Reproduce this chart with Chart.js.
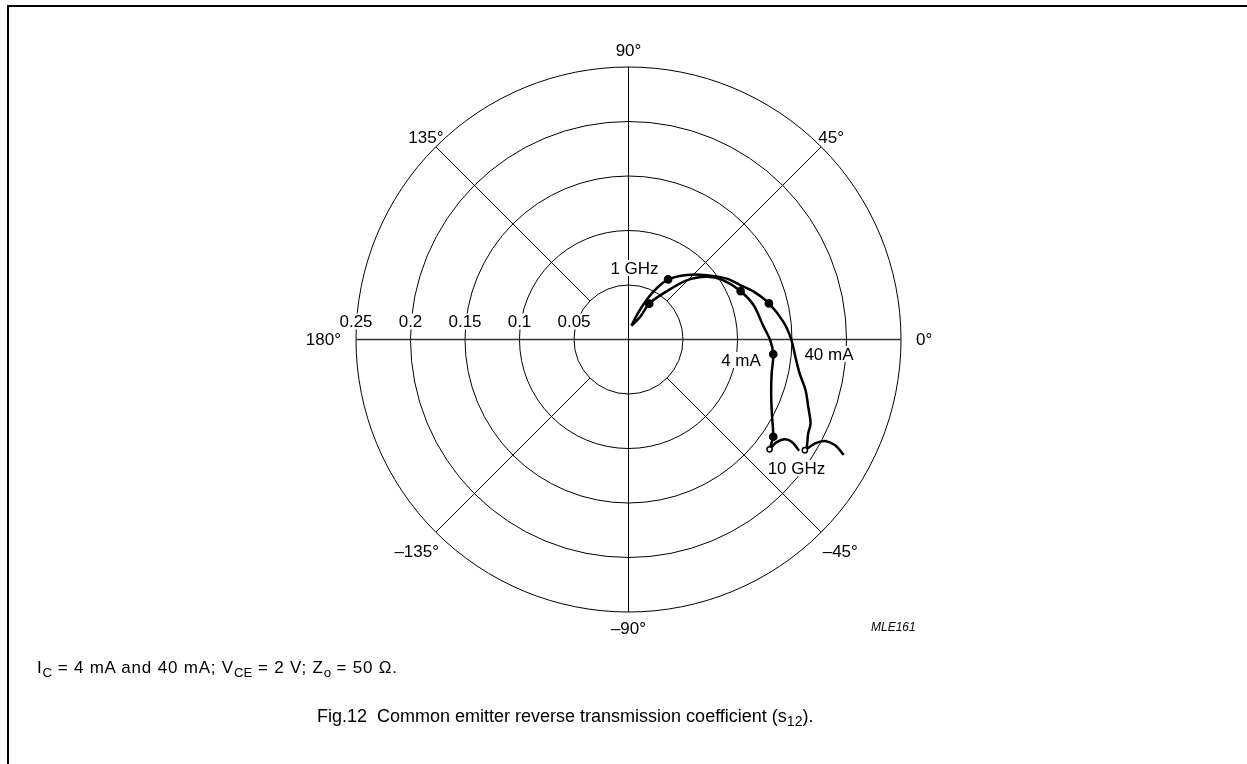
<!DOCTYPE html>
<html>
<head>
<meta charset="utf-8">
<script src="https://cdn.jsdelivr.net/npm/chart.js@4/dist/chart.umd.min.js"></script>
<style>
html, body { margin: 0; padding: 0; background: #fff; }
#wrap { position: relative; width: 1247px; height: 764px; overflow: hidden;
        font-family: "Liberation Sans", Arial, sans-serif; color: #000; }
#frame { position: absolute; left: 7px; top: 5px; width: 1400px; height: 900px;
         border-left: 2px solid #000; border-top: 2px solid #000; }
canvas { position: absolute; left: 0; top: 0; }
.note { position: absolute; left: 37px; top: 659px; font-size: 17px; line-height: 17px;
        letter-spacing: 0.8px; white-space: nowrap; }
.cap { position: absolute; left: 317px; top: 707px; font-size: 18px; line-height: 18px; white-space: nowrap; }
sub { font-size: 0.78em; vertical-align: -0.3em; line-height: 0; letter-spacing: 0; }
</style>
</head>
<body>
<div id="wrap">
  <div id="frame"></div>
  <canvas id="myChart" width="1247" height="764"></canvas>
  <div class="note">I<sub>C</sub> = 4 mA and 40 mA; V<sub>CE</sub> = 2 V; Z<sub>o</sub> = 50 &Omega;.</div>
  <div class="cap">Fig.12&nbsp; Common emitter reverse transmission coefficient (s<sub>12</sub>).</div>
</div>
<script>
// polar grid: magnitude rings and angle spokes
var ringValues = [0.05, 0.1, 0.15, 0.2, 0.25];
var ringLabels = ['0.05', '0.1', '0.15', '0.2', '0.25'];
var angleTicks = [0, 45, 90, 135, 180, -135, -90, -45];
var angleLabels = ['0°', '45°', '90°', '135°', '180°', '–135°', '–90°', '–45°'];

// s12 at Ic = 40 mA (magnitude, angle in degrees), 1 GHz .. 10 GHz
var mag40 = [0.013, 0.029, 0.048, 0.066, 0.080, 0.093, 0.106, 0.114, 0.123, 0.133, 0.143, 0.149,
             0.154, 0.160, 0.169, 0.176, 0.184, 0.186, 0.191, 0.191, 0.196, 0.203, 0.213, 0.224];
var ang40 = [78, 69, 63, 56.6, 47.8, 39.4, 31.8, 26, 20.9, 14.4, 6.5, 0.4,
             -6, -11.2, -16, -20.5, -24.8, -27.6, -31.1, -32.1, -29.1, -27.3, -27.1, -28.2];
var dots40 = [3, 9];
var end40 = 19;

// s12 at Ic = 4 mA
var mag4 = [0.013, 0.023, 0.038, 0.053, 0.076, 0.092, 0.102, 0.112, 0.119, 0.124, 0.130, 0.1335,
            0.135, 0.140, 0.148, 0.160, 0.162, 0.164, 0.165, 0.170, 0.177, 0.187];
var ang4 = [78, 63, 60, 52.9, 45.5, 38.7, 32.4, 23.3, 15.4, 6.1, -0.3, -5.8,
            -13.4, -20.8, -27.3, -33.9, -36, -37.9, -35.1, -32.6, -32.1, -33.1];
var dots4 = [2, 7, 11, 15];
var end4 = 17;

var curveNotes = [
    { text: '1 GHz', x: 0.0055, y: 0.0656 },
    { text: '4 mA', x: 0.1032, y: -0.0188 },
    { text: '40 mA', x: 0.1839, y: -0.0133 },
    { text: '10 GHz', x: 0.1541, y: -0.1179 }
];

function toXY(mag, ang) {
    return mag.map(function (r, i) {
        var a = ang[i] * Math.PI / 180;
        return { x: r * Math.cos(a), y: r * Math.sin(a) };
    });
}

function markRadius(dots, end) {
    return function (c) {
        if (dots.indexOf(c.dataIndex) >= 0) return 3.6;
        if (c.dataIndex === end) return 2.6;
        return 0;
    };
}
function markFill(end) {
    return function (c) { return c.dataIndex === end ? '#fff' : '#000'; };
}

var FONT = '17px "Liberation Sans", Arial, sans-serif';

function labelWithBg(ctx, text, x, y, align) {
    ctx.font = FONT;
    var w = ctx.measureText(text).width;
    var left = align === 'left' ? x : align === 'right' ? x - w : x - w / 2;
    ctx.fillStyle = '#fff';
    ctx.fillRect(left - 2, y - 8, w + 4, 16);
    ctx.fillStyle = '#000';
    ctx.textAlign = 'left';
    ctx.textBaseline = 'middle';
    ctx.fillText(text, left, y + 1);
}

var polarGrid = {
    id: 'polarGrid',
    beforeDatasetsDraw: function (chart) {
        var ctx = chart.ctx, xs = chart.scales.x, ys = chart.scales.y;
        var cx = xs.getPixelForValue(0), cy = ys.getPixelForValue(0);
        var px = function (v) { return xs.getPixelForValue(v) - cx; };
        var R = px(ringValues[ringValues.length - 1]);
        var r0 = px(ringValues[0]);
        ctx.save();
        ctx.strokeStyle = '#000';
        ctx.lineWidth = 1;
        ringValues.forEach(function (v) {
            ctx.beginPath();
            ctx.arc(cx, cy, px(v), 0, Math.PI * 2);
            ctx.stroke();
        });
        angleTicks.forEach(function (a) {
            var t = a * Math.PI / 180;
            var start = (a % 90 === 0) ? 0 : r0;
            ctx.save();
            if (a === 0 || a === 180) { ctx.lineWidth = 1.4; ctx.strokeStyle = '#333'; }
            ctx.beginPath();
            ctx.moveTo(cx + start * Math.cos(t), cy - start * Math.sin(t));
            ctx.lineTo(cx + R * Math.cos(t), cy - R * Math.sin(t));
            ctx.stroke();
            ctx.restore();
        });

        // magnitude labels above the 180° axis
        ringValues.forEach(function (v, i) {
            labelWithBg(ctx, ringLabels[i], cx - px(v), cy - 18, 'center');
        });

        // angle labels round the outer ring
        ctx.font = FONT;
        angleTicks.forEach(function (a, i) {
            var t = a * Math.PI / 180;
            var w = ctx.measureText(angleLabels[i]).width;
            var c = Math.cos(t), s = Math.sin(t);
            var d;
            if (Math.abs(s) < 0.1) d = R + 15 + w / 2;
            else if (Math.abs(c) < 0.1) d = R + 16.5;
            else d = R + (s > 0 ? 14 : 27);
            ctx.fillStyle = '#000';
            ctx.textAlign = 'center';
            ctx.textBaseline = 'middle';
            ctx.fillText(angleLabels[i], cx + d * c, cy - d * s + 1);
        });

        // curve annotations
        curveNotes.forEach(function (n) {
            labelWithBg(ctx, n.text, xs.getPixelForValue(n.x), ys.getPixelForValue(n.y), 'center');
        });

        // figure code
        ctx.font = 'italic 12px "Liberation Sans", Arial, sans-serif';
        ctx.fillStyle = '#000';
        ctx.textAlign = 'center';
        ctx.textBaseline = 'middle';
        ctx.fillText('MLE161', xs.getPixelForValue(0.243), ys.getPixelForValue(-0.264));
        ctx.restore();
    }
};

var ctx = document.getElementById('myChart').getContext('2d');
var chart = new Chart(ctx, {
    type: 'scatter',
    data: {
        datasets: [{
            label: '40 mA',
            data: toXY(mag40, ang40),
            showLine: true,
            borderColor: '#000',
            borderWidth: 2.5,
            tension: 0.3,
            pointRadius: markRadius(dots40, end40),
            pointBackgroundColor: markFill(end40),
            pointBorderColor: '#000',
            pointBorderWidth: 1.5
        }, {
            label: '4 mA',
            data: toXY(mag4, ang4),
            showLine: true,
            borderColor: '#000',
            borderWidth: 2.5,
            tension: 0.3,
            pointRadius: markRadius(dots4, end4),
            pointBackgroundColor: markFill(end4),
            pointBorderColor: '#000',
            pointBorderWidth: 1.5
        }]
    },
    options: {
        responsive: false,
        animation: false,
        layout: { padding: { left: 356, right: 346, top: 67, bottom: 152 } },
        scales: {
            x: { type: 'linear', min: -0.25, max: 0.25, display: false },
            y: { type: 'linear', min: -0.25, max: 0.25, display: false }
        },
        plugins: {
            legend: { display: false },
            tooltip: { enabled: false }
        }
    },
    plugins: [polarGrid]
});
</script>
</body>
</html>
